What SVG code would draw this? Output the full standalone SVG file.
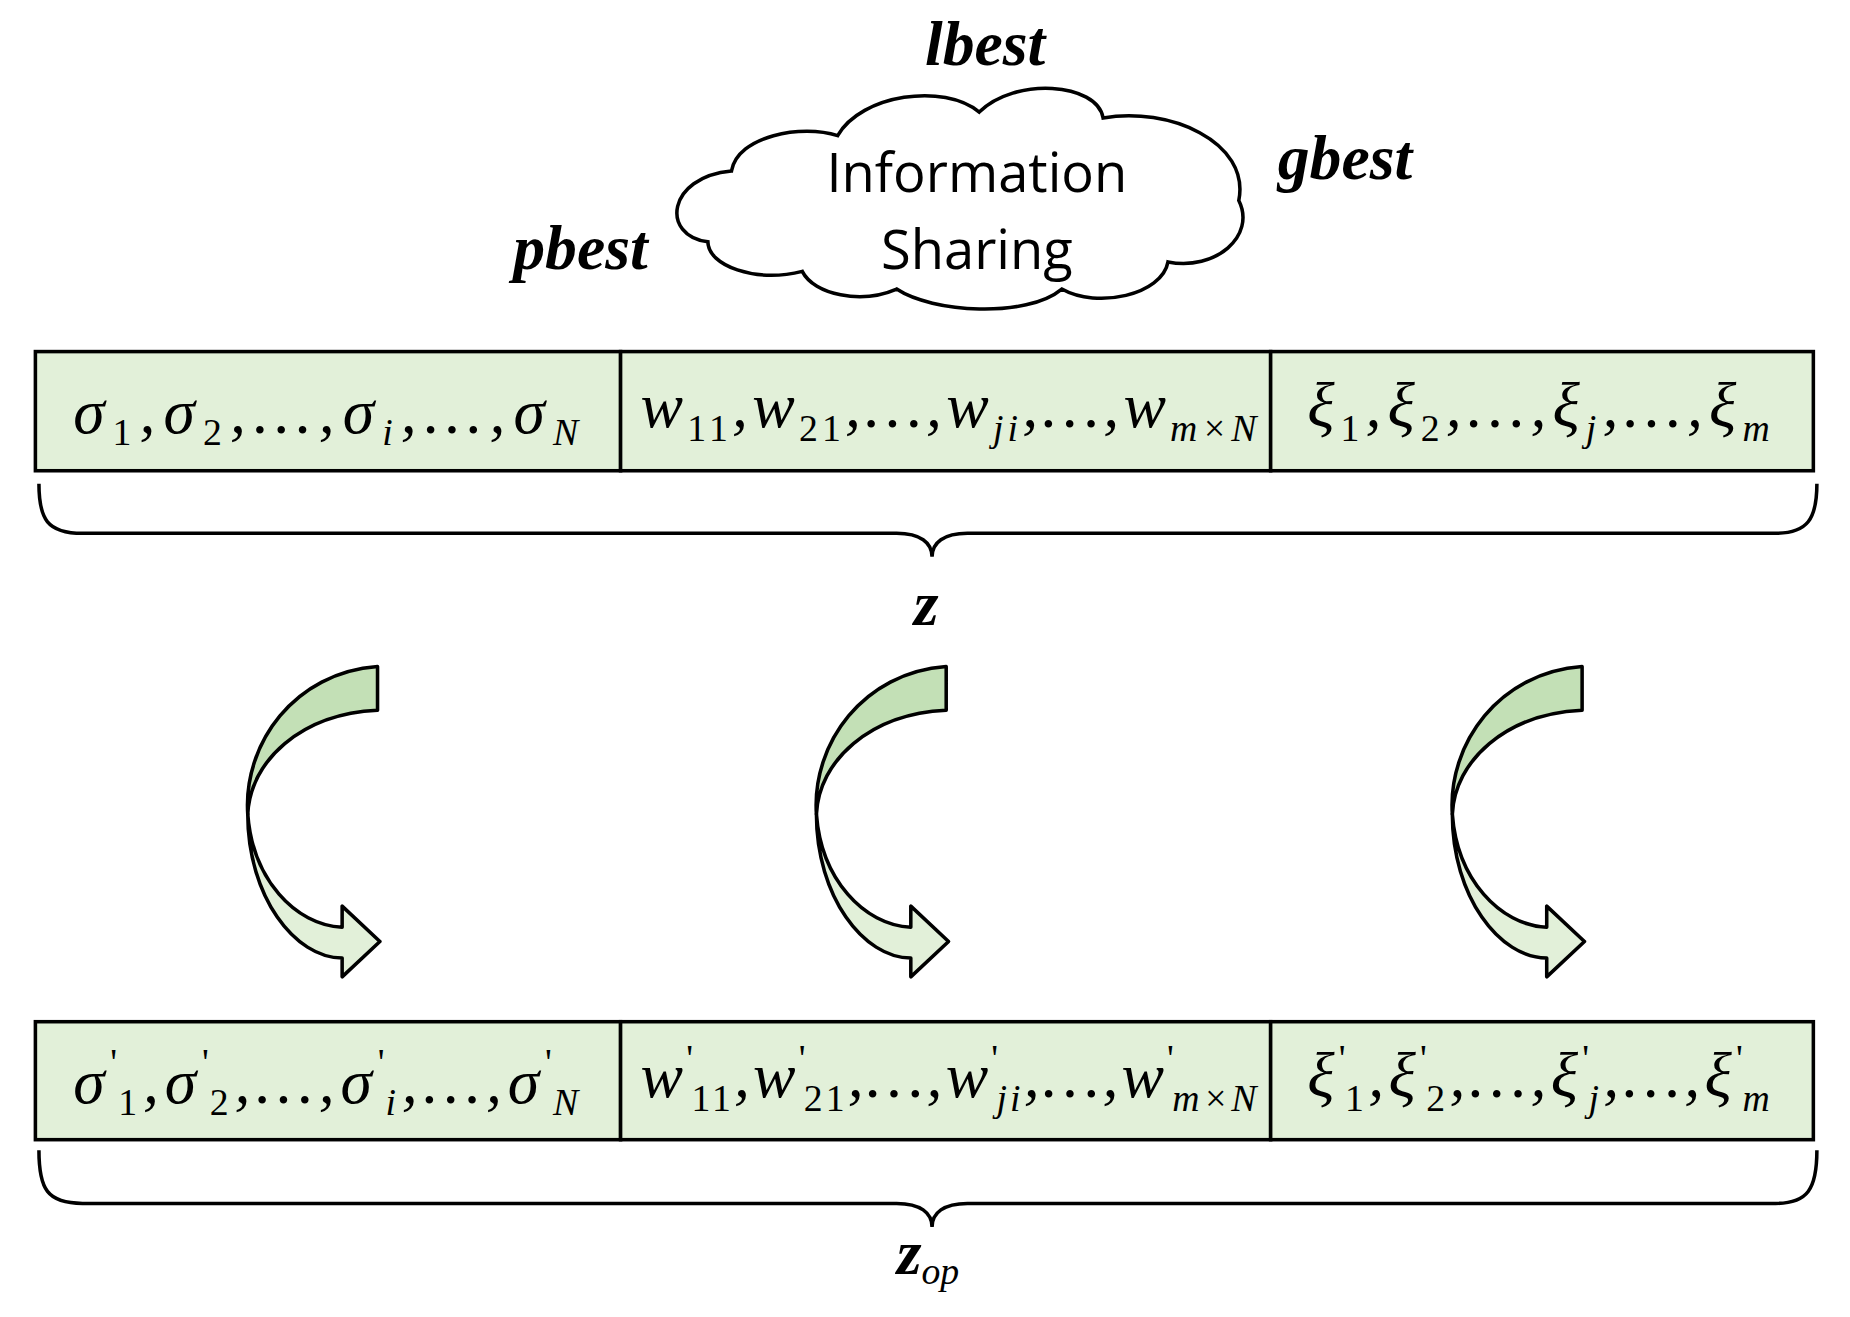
<svg xmlns="http://www.w3.org/2000/svg" width="1850" height="1317" viewBox="0 0 1850 1317">
<defs>
<style>
.cell{fill:#e2f0d9;stroke:#000;stroke-width:3}
.m{font-family:"Liberation Serif",serif;font-style:italic;font-size:54px;fill:#000}
.s{font-size:32px}
.bl{font-family:"Liberation Serif",serif;font-style:italic;font-weight:bold;font-size:54px;fill:#000}
.br{fill:none;stroke:#000;stroke-width:3}
.up{fill:#c3e0b6;stroke:#000;stroke-width:3;stroke-linejoin:round}
.lo{fill:#e2f0d9;stroke:#000;stroke-width:3;stroke-linejoin:round}
</style>
<g id="carrow">
<path class="up" d="M320,565 L320,602 C255,605 212,645 210,690 C206,630 250,570 320,565 Z"/>
<path class="lo" d="M210,690 C210,760 250,812 290,812 L290,828 L322,798 L290,768 L290,786 C250,784 214,745 210,690 Z"/>
</g>
</defs>
<rect width="1850" height="1317" fill="#fff"/>
<g transform="scale(1.1798)">
<g id="cloud">
<path d="M600,205 C560,200 565,150 620,145 C625,115 680,105 710,115 C730,80 800,70 830,95 C860,65 930,70 935,100 C990,90 1060,120 1050,170 C1065,200 1030,230 990,222 C985,250 930,262 900,245 C870,270 790,265 760,245 C730,258 690,250 680,230 C640,240 600,225 600,205 Z" fill="#fff" stroke="#000" stroke-width="3"/>
<text x="828" y="163" font-family="'Open Sans','Noto Sans',sans-serif" font-size="46" text-anchor="middle">Information</text>
<text x="828" y="228" font-family="'Open Sans','Noto Sans',sans-serif" font-size="46" text-anchor="middle">Sharing</text>
</g>
<g id="labels">
<text class="bl" x="835" y="55" text-anchor="middle">lbest</text>
<text class="bl" x="1140" y="152" text-anchor="middle">gbest</text>
<text class="bl" x="492" y="228" text-anchor="middle">pbest</text>
<text class="bl" x="785" y="530" text-anchor="middle">z</text>
<text class="bl" x="760" y="1080">z<tspan class="s" dy="8" font-weight="normal">op</tspan></text>
</g>
<g id="topbox">
<rect class="cell" x="30" y="298" width="496" height="101"/>
<rect class="cell" x="526" y="298" width="551" height="101"/>
<rect class="cell" x="1077" y="298" width="460" height="101"/>
<text class="m" x="62" y="367" font-size="60" textLength="428" lengthAdjust="spacing">σ<tspan class="s" dy="10" font-style="normal">1</tspan><tspan dy="-10">,σ</tspan><tspan class="s" dy="10" font-style="normal">2</tspan><tspan dy="-10">,…,σ</tspan><tspan class="s" dy="10">i</tspan><tspan dy="-10">,…,σ</tspan><tspan class="s" dy="10">N</tspan></text>
<text class="m" x="543" y="362" textLength="522" lengthAdjust="spacing">w<tspan class="s" dy="12" font-style="normal">11</tspan><tspan dy="-12">,w</tspan><tspan class="s" dy="12" font-style="normal">21</tspan><tspan dy="-12">,…,w</tspan><tspan class="s" dy="12">ji</tspan><tspan dy="-12">,…,w</tspan><tspan class="s" dy="12">m×N</tspan></text>
<text class="m" x="1108" y="362" textLength="392" lengthAdjust="spacing">ξ<tspan class="s" dy="12" font-style="normal">1</tspan><tspan dy="-12">,ξ</tspan><tspan class="s" dy="12" font-style="normal">2</tspan><tspan dy="-12">,…,ξ</tspan><tspan class="s" dy="12">j</tspan><tspan dy="-12">,…,ξ</tspan><tspan class="s" dy="12">m</tspan></text>
</g>
<g id="bottombox">
<rect class="cell" x="30" y="866" width="496" height="100"/>
<rect class="cell" x="526" y="866" width="551" height="100"/>
<rect class="cell" x="1077" y="866" width="460" height="100"/>
<text class="m" x="62" y="935" font-size="60" textLength="428" lengthAdjust="spacing">σ<tspan class="s" dy="-24" font-style="normal">'</tspan><tspan class="s" dx="-4" dy="34" font-style="normal">1</tspan><tspan dy="-10">,σ</tspan><tspan class="s" dy="-24" font-style="normal">'</tspan><tspan class="s" dx="-4" dy="34" font-style="normal">2</tspan><tspan dy="-10">,…,σ</tspan><tspan class="s" dy="-24" font-style="normal">'</tspan><tspan class="s" dx="-4" dy="34">i</tspan><tspan dy="-10">,…,σ</tspan><tspan class="s" dy="-24" font-style="normal">'</tspan><tspan class="s" dx="-4" dy="34">N</tspan></text>
<text class="m" x="543" y="930" textLength="522" lengthAdjust="spacing">w<tspan class="s" dy="-22" font-style="normal">'</tspan><tspan class="s" dx="-4" dy="34" font-style="normal">11</tspan><tspan dy="-12">,w</tspan><tspan class="s" dy="-22" font-style="normal">'</tspan><tspan class="s" dx="-4" dy="34" font-style="normal">21</tspan><tspan dy="-12">,…,w</tspan><tspan class="s" dy="-22" font-style="normal">'</tspan><tspan class="s" dx="-4" dy="34">ji</tspan><tspan dy="-12">,…,w</tspan><tspan class="s" dy="-22" font-style="normal">'</tspan><tspan class="s" dx="-4" dy="34">m×N</tspan></text>
<text class="m" x="1108" y="930" textLength="392" lengthAdjust="spacing">ξ<tspan class="s" dy="-22" font-style="normal">'</tspan><tspan class="s" dx="-4" dy="34" font-style="normal">1</tspan><tspan dy="-12">,ξ</tspan><tspan class="s" dy="-22" font-style="normal">'</tspan><tspan class="s" dx="-4" dy="34" font-style="normal">2</tspan><tspan dy="-12">,…,ξ</tspan><tspan class="s" dy="-22" font-style="normal">'</tspan><tspan class="s" dx="-4" dy="34">j</tspan><tspan dy="-12">,…,ξ</tspan><tspan class="s" dy="-22" font-style="normal">'</tspan><tspan class="s" dx="-4" dy="34">m</tspan></text>
</g>
<g id="connectors">
<path class="br" d="M33,410 C33,440 40,452 70,452 L760,452 C780,452 790,460 790,472 C790,460 800,452 820,452 L1505,452 C1532,452 1540,440 1540,410"/>
<path class="br" d="M33,975 C33,1008 40,1020 70,1020 L760,1020 C780,1020 790,1028 790,1040 C790,1028 800,1020 820,1020 L1505,1020 C1532,1020 1540,1008 1540,975"/>
<use href="#carrow"/>
<use href="#carrow" x="482"/>
<use href="#carrow" x="1021"/>
</g>
</g>
</svg>
